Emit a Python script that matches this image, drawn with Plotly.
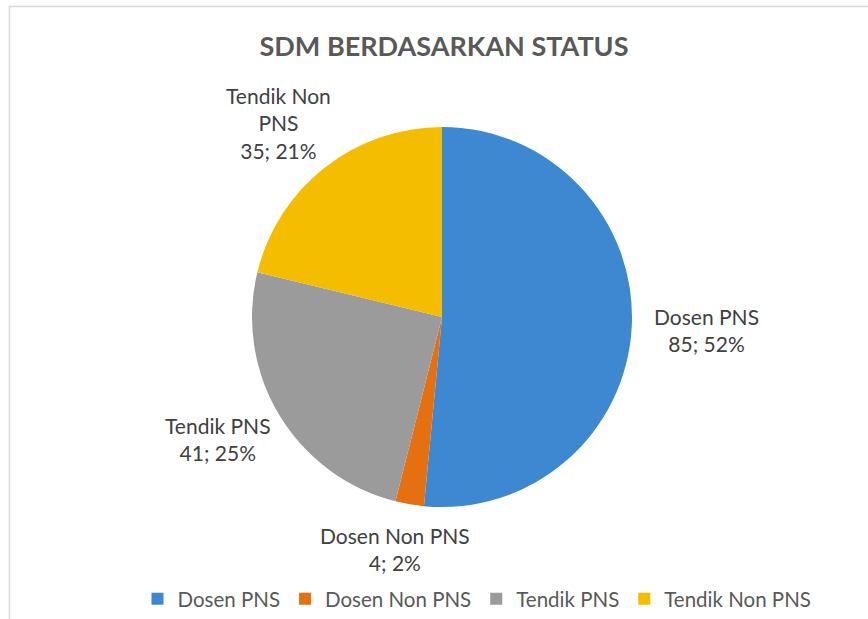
import plotly.graph_objects as go

categories = ["Dosen PNS", "Dosen Non PNS", "Tendik PNS", "Tendik Non PNS"]
values = [85, 4, 41, 35]
label_lines = ["Dosen PNS", "Dosen Non PNS", "Tendik PNS", "Tendik Non<br>PNS"]
colors = ["#3d88d0", "#e5700f", "#9b9b9b", "#f5bd00"]
title_text = "SDM BERDASARKAN STATUS"

W, H = 868, 619
total = sum(values)
pcts = [round(v / total * 100) for v in values]

FONT = "Lato, Open Sans, sans-serif"

fig = go.Figure()
fig.add_trace(go.Pie(
    labels=categories,
    values=values,
    sort=False,
    direction="clockwise",
    rotation=0,
    textinfo="none",
    hoverinfo="label+value+percent",
    marker=dict(colors=colors, line=dict(width=0)),
    domain=dict(x=[252 / W, 632 / W], y=[1 - 507 / H, 1 - 127 / H]),
    showlegend=True,
))

# label positions (pixel centers)
label_pos = [(706, 330), (395, 549), (218, 439), (278, 123)]
font_txt = dict(family=FONT, size=21, color="#404040")
for (px, py), lab, v, p in zip(label_pos, label_lines, values, pcts):
    fig.add_annotation(
        x=px / W, y=1 - py / H, xref="paper", yref="paper",
        text=f"{lab}<br>{v}; {p}%", showarrow=False,
        font=font_txt, align="center", xanchor="center", yanchor="middle",
    )

fig.add_shape(type="rect", xref="paper", yref="paper",
              x0=9.5 / W, x1=1.2, y0=-0.2, y1=1 - 6.5 / H,
              line=dict(color="#d9d9d9", width=1.5))

fig.update_layout(
    width=W, height=H,
    margin=dict(l=0, r=0, t=0, b=0),
    paper_bgcolor="white",
    plot_bgcolor="white",
    title=dict(text=f"<b>{title_text}</b>", x=444 / W, xanchor="center",
               y=1 - 47 / H, yanchor="middle",
               font=dict(family=FONT, size=27, color="#595959")),
    legend=dict(orientation="h", x=477 / W, xanchor="center", y=1 - 599 / H, yanchor="middle",
                font=dict(family=FONT, size=20.5, color="#595959"),
                itemwidth=30, tracegroupgap=0, bgcolor="rgba(0,0,0,0)"),
)

fig.write_html("out.html", config={"displayModeBar": False},
               post_script="document.body.style.margin='0';document.body.style.overflow='hidden';")
